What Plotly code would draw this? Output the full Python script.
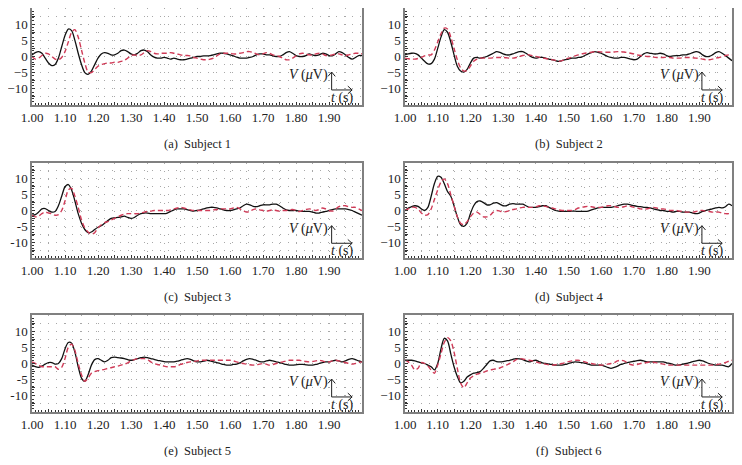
import plotly.graph_objects as go

# time axis (s)
t = [round(1.0 + 0.01 * i, 2) for i in range(101)]

captions = ["(a)  Subject 1", "(b)  Subject 2", "(c)  Subject 3",
            "(d)  Subject 4", "(e)  Subject 5", "(f)  Subject 6"]
x_tick_vals = [round(1.0 + 0.05 * i, 2) for i in range(20)]
x_tick_text = [f"{v:.2f}" if i % 2 == 0 else "" for i, v in enumerate(x_tick_vals)]
y_tick_vals = [-15, -12.5, -10, -7.5, -5, -2.5, 0, 2.5, 5, 7.5, 10, 12.5, 15]

# black solid traces (measured), red dashed traces (model)
s1_black = [0.5, 1.2, 1.5, 1.0, -0.5, -2.0, -2.8, -2.5, -0.5, 3.0,
            6.5, 8.5, 8.0, 5.0, 1.0, -2.5, -5.0, -5.5, -4.5, -2.5,
            -0.5, 0.8, 1.2, 1.0, 0.5, 0.5, 1.0, 1.8, 2.0, 1.5,
            0.8, 0.5, 1.0, 1.8, 2.0, 1.5, 0.5, -0.2, -0.5, -0.5,
            -0.3, -0.5, -0.8, -0.5, -0.8, -1.0, -1.0, -0.8, -0.5, -0.3,
            0.0, 0.0, 0.2, 0.2, 0.3, 0.5, 0.8, 1.0, 1.0, 0.8,
            0.5, 0.2, -0.2, -0.5, -0.5, -0.5, -0.3, 0.0, 0.5, 0.8,
            0.8, 0.5, 0.5, 0.2, 0.0, 0.0, 0.5, 1.2, 1.5, 1.0,
            0.3, 0.0, 0.0, 0.3, 0.8, 0.5, 0.3, 0.5, 1.0, 0.8,
            0.3, 0.2, 0.8, 1.5, 1.2, 0.5, -0.3, -0.8, -0.3, 0.3, 0.3]
s1_red = [0.0, -0.8, -0.5, 0.3, 1.0, 0.8, 0.0, -0.8, -1.0, -0.3,
          1.5, 4.5, 7.5, 8.3, 6.0, 2.0, -2.0, -4.8, -5.0, -4.0,
          -3.0, -2.5, -2.2, -2.0, -2.0, -1.8, -1.8, -1.5, -1.2, -0.5,
          0.3, 0.5, 0.3, 0.5, 1.2, 1.8, 1.5, 1.0, 0.8, 1.0,
          1.0, 1.0, 1.2, 1.0, 0.8, 0.5, 0.3, 0.3, 0.2, -0.3,
          -0.5, -0.8, -1.0, -1.0, -0.8, -0.5, 0.2, 0.8, 1.0, 1.0,
          1.0, 0.8, 0.8, 1.0, 1.2, 1.5, 1.5, 1.2, 0.8, 0.5,
          0.8, 1.2, 1.0, 0.5, 0.3, 0.0, -0.5, -1.0, -1.0, -0.5,
          0.2, 0.8, 1.0, 0.8, 0.5, 0.5, 0.8, 1.0, 0.8, 0.3,
          0.3, 0.5, 0.8, 0.8, 0.5, 0.3, 0.5, 0.8, 1.0, 1.0, 0.8]

s2_black = [0.5, 0.8, 1.0, 1.0, 0.5, -0.5, -1.5, -2.3, -2.2, -0.8,
            2.5, 6.0, 8.3, 7.5, 4.5, 0.5, -3.0, -4.5, -4.8, -4.0,
            -2.0, -0.5, -0.3, -0.5, -0.3, 0.0, 0.5, 1.0, 1.5, 1.3,
            0.8, 0.5, 0.5, 0.8, 1.2, 1.5, 1.5, 1.0, 0.3, -0.3,
            -0.5, -0.3, -0.3, -0.5, -0.8, -1.0, -1.3, -1.5, -1.3, -1.0,
            -0.8, -0.5, -0.5, -0.3, -0.2, 0.3, 0.8, 1.2, 1.5, 1.3,
            1.0, 0.5, 0.0, -0.3, -0.5, -0.5, -0.3, -0.3, -0.5, -0.8,
            -1.0, -0.8, 0.0, 0.8, 1.2, 1.0, 0.8, 0.8, 1.0, 0.8,
            0.3, 0.0, 0.2, 0.3, 0.3, 0.5, 0.5, 0.8, 1.2, 1.5,
            1.3, 0.5, 0.0, 0.0, 0.5, 1.2, 1.5, 1.0, 0.3, -0.5, -1.3]
s2_red = [-0.5, -0.7, -0.8, -0.8, -0.6, -0.3, 0.2, 0.5, 0.5, 2.0,
          4.5, 7.0, 8.8, 8.5, 6.0, 2.5, -1.0, -3.5, -4.5, -4.3,
          -3.0, -1.5, -0.8, -0.5, -0.5, -0.5, -0.5, -0.4, -0.3, -0.3,
          -0.3, -0.4, -0.5, -0.5, -0.3, 0.0, 0.3, 0.5, 0.5, 0.2,
          0.0, -0.2, -0.5, -0.6, -0.8, -1.0, -1.2, -1.5, -1.3, -0.8,
          -0.5, -0.2, 0.2, 0.5, 0.8, 1.0, 1.2, 1.3, 1.5, 1.5,
          1.4, 1.3, 1.3, 1.3, 1.4, 1.5, 1.5, 1.4, 1.2, 1.0,
          0.8, 0.5, 0.3, 0.2, 0.0, 0.0, -0.2, -0.3, -0.3, -0.3,
          -0.2, -0.3, -0.5, -0.5, -0.5, -0.4, -0.3, -0.3, -0.4, -0.5,
          -0.6, -0.8, -1.0, -1.0, -0.8, -0.5, -0.3, 0.0, 0.3, 0.5, 0.5]

s3_black = [-1.5, -1.3, -0.5, 0.5, 0.6, 0.0, -0.5, -0.3, 1.5, 4.5,
            7.5, 8.2, 6.5, 3.0, -1.0, -4.0, -6.0, -7.0, -6.8, -6.0,
            -5.3, -4.8, -4.0, -3.2, -2.5, -2.3, -2.2, -2.0, -1.8, -2.2,
            -2.5, -2.2, -1.5, -1.0, -0.8, -0.8, -1.0, -1.0, -1.0, -1.0,
            -1.0, -0.8, -0.3, 0.2, 0.5, 0.5, 0.5, 0.3, 0.0, -0.2,
            0.0, 0.2, 0.5, 0.8, 1.0, 1.0, 0.8, 0.5, 0.2, 0.0,
            0.0, 0.2, 0.5, 0.8, 1.5, 2.0, 1.8, 1.3, 1.2, 1.5,
            1.8, 1.8, 1.8, 2.0, 2.0, 1.5, 0.8, 0.2, 0.0, 0.0,
            0.0, -0.2, -0.3, -0.3, -0.3, -0.5, -0.8, -0.8, -0.5, -0.3,
            0.0, 0.3, 0.5, 0.5, 0.5, 0.5, 0.3, 0.0, -0.5, -1.0, -1.5]
s3_red = [-1.5, -2.0, -1.8, -1.0, -0.5, -0.8, -1.0, -1.5, -1.3, 0.0,
          3.0, 6.5, 7.0, 4.5, 1.0, -3.0, -5.5, -6.8, -7.5, -7.0,
          -5.5, -4.5, -3.8, -3.5, -3.0, -2.5, -2.0, -1.5, -1.2, -1.0,
          -1.0, -1.0, -1.0, -0.8, -0.5, -0.3, -0.2, 0.0, 0.0, 0.0,
          0.0, 0.0, 0.2, 0.5, 0.8, 1.0, 0.8, 0.5, 0.2, 0.0,
          0.0, 0.0, 0.0, 0.0, 0.0, 0.2, 0.3, 0.5, 0.5, 0.5,
          0.5, 0.8, 1.0, 0.5, 0.0, -0.5, -0.3, 0.3, 0.5, 0.2,
          0.0, -0.2, 0.0, 0.2, 0.0, -0.2, 0.0, 0.0, 0.2, 0.3,
          0.0, -0.3, 0.0, 0.3, 0.5, 0.3, 0.0, 0.3, 0.8, 0.5,
          0.0, -0.2, 0.5, 1.2, 1.5, 1.5, 1.2, 1.0, 1.0, 0.5, 0.0]

s4_black = [0.0, 0.8, 1.2, 1.5, 1.3, 0.5, 0.0, 1.0, 4.5, 8.5,
            10.8, 10.5, 8.5, 6.0, 4.5, 1.5, -2.0, -4.5, -5.0, -4.0,
            -1.0, 1.5, 2.8, 3.0, 2.5, 1.8, 1.8, 2.3, 2.5, 2.0,
            1.5, 1.5, 2.0, 2.2, 2.0, 2.0, 2.0, 1.5, 1.0, 1.0,
            1.0, 1.2, 1.5, 1.5, 1.0, 0.5, 0.0, -0.2, -0.3, -0.3,
            -0.3, -0.2, -0.2, -0.3, -0.3, -0.3, -0.2, 0.2, 0.5, 0.8,
            1.0, 1.0, 1.0, 1.0, 1.2, 1.5, 1.8, 2.0, 2.0, 1.8,
            1.5, 1.3, 1.2, 1.0, 1.0, 0.8, 0.5, 0.3, 0.0, 0.0,
            -0.3, -0.3, -0.5, -0.3, -0.3, -0.5, -0.5, -0.5, -0.8, -1.0,
            -0.8, -0.3, 0.0, 0.3, 0.5, 0.8, 1.0, 0.8, 1.2, 2.0, 1.5]
s4_red = [0.0, 0.5, 1.0, 1.0, 0.5, -0.8, -1.5, -1.3, 0.5, 3.5,
          6.5, 9.0, 10.0, 8.5, 5.0, 1.5, -2.0, -4.0, -4.5, -3.5,
          -2.0, -0.8, -0.5, -1.2, -2.0, -2.0, -1.5, -0.5, 0.0, -0.2,
          -0.5, -0.3, 0.0, 0.3, 0.5, 0.8, 1.0, 1.0, 1.0, 1.0,
          1.2, 1.5, 1.5, 1.3, 1.0, 0.8, 0.5, 0.2, 0.0, 0.0,
          0.0, 0.0, 0.3, 0.8, 1.0, 1.2, 1.3, 1.2, 1.0, 1.0,
          1.0, 1.2, 1.5, 1.5, 1.3, 1.0, 1.0, 1.2, 1.5, 1.3,
          1.0, 0.8, 0.5, 0.5, 0.5, 0.8, 1.0, 0.8, 0.5, 0.5,
          0.3, 0.0, 0.0, 0.0, -0.2, -0.3, -0.5, -0.5, -0.5, -0.3,
          0.0, 0.0, -0.2, -0.3, -0.5, -0.5, -0.5, -0.8, -1.0, -1.0, -0.8]

s5_black = [-0.5, -1.0, -1.2, -0.8, -0.2, 0.3, 0.3, -0.2, 0.0, 1.5,
            4.5, 6.5, 6.3, 3.5, -1.0, -4.5, -5.5, -3.5, -0.5, 1.2,
            1.5, 1.0, 0.5, 1.0, 1.8, 2.0, 1.8, 1.7, 1.5, 1.2,
            1.0, 1.2, 1.5, 1.8, 2.0, 1.8, 1.5, 1.3, 1.0, 0.8,
            0.6, 0.5, 0.5, 0.5, 0.7, 1.0, 1.3, 1.5, 1.3, 0.8,
            0.5, 0.5, 0.7, 1.0, 0.8, 0.5, 0.3, 0.0, -0.3, -0.5,
            -0.5, -0.3, -0.2, 0.2, 0.8, 1.3, 1.5, 1.3, 1.0, 0.6,
            0.5, 0.8, 1.0, 0.8, 0.5, 0.3, 0.0, -0.3, -0.5, -0.5,
            -0.4, -0.3, -0.3, -0.4, -0.5, -0.5, -0.3, 0.0, 0.3, 0.5,
            0.5, 0.8, 1.0, 0.8, 0.5, 0.8, 1.3, 1.5, 1.2, 0.8, 0.5]
s5_red = [0.5, 0.0, -0.5, -1.0, -1.0, -1.0, -1.0, -1.0, -1.8, -1.2,
          1.5, 5.0, 6.0, 4.0, 0.0, -3.5, -5.5, -4.5, -3.0, -2.5,
          -2.2, -2.0, -1.8, -1.5, -1.3, -1.0, -0.8, -0.5, -0.2, 0.2,
          0.8, 1.2, 1.5, 1.5, 1.5, 1.2, 0.5, 0.0, -0.3, -0.5,
          -0.8, -1.0, -1.0, -1.0, -0.8, -0.3, 0.0, 0.3, 0.5, 0.6,
          0.8, 1.0, 1.0, 1.0, 1.0, 1.0, 1.0, 1.0, 1.0, 1.0,
          1.0, 0.8, 0.5, 0.2, 0.0, -0.2, -0.4, -0.5, -0.4, -0.2,
          0.0, -0.2, -0.5, -0.3, 0.0, 0.3, 0.5, 0.8, 1.0, 1.0,
          1.0, 1.0, 0.8, 0.6, 0.5, 0.6, 0.8, 1.0, 0.8, 0.5,
          0.5, 0.8, 1.0, 0.8, 0.5, 0.3, 0.0, -0.2, 0.0, 0.3, 0.5]

s6_black = [1.0, 1.0, 1.0, 0.8, 0.5, 0.2, 0.0, -0.5, -1.0, -2.0,
            0.0, 4.5, 7.8, 7.0, 3.0, -1.0, -4.0, -6.0, -5.5, -4.2,
            -3.5, -3.0, -2.8, -2.5, -1.5, -0.3, 0.8, 1.0, 0.6, 0.5,
            0.6, 0.8, 1.0, 1.3, 1.5, 1.4, 1.2, 0.8, 0.5, 0.8,
            1.0, 0.6, 0.2, 0.0, -0.2, -0.3, -0.5, -0.5, -0.5, -0.3,
            0.0, 0.3, 0.5, 0.4, 0.3, 0.1, -0.2, -0.5, -0.5, -0.5,
            -0.5, -0.8, -1.2, -1.5, -1.2, -0.8, -0.3, 0.0, 0.3, 0.5,
            0.7, 0.9, 1.0, 0.8, 0.5, 0.5, 0.5, 0.5, 0.5, 0.5,
            0.2, 0.0, -0.3, -0.5, -0.4, -0.2, 0.0, 0.3, 0.6, 0.8,
            1.0, 0.8, 0.4, 0.0, -0.3, -0.5, -0.5, -0.5, -0.8, -1.0, 0.0]
s6_red = [1.0, 0.5, -0.5, -2.0, -1.5, 0.3, 0.0, -0.8, -2.0, -3.0,
          -0.5, 3.0, 6.5, 8.0, 7.0, 3.5, -1.5, -6.0, -7.5, -6.0,
          -4.5, -3.8, -3.3, -3.0, -2.7, -2.3, -2.0, -1.8, -1.6, -1.4,
          -1.0, -0.5, 0.0, 0.5, 1.2, 1.5, 1.4, 1.2, 1.0, 0.8,
          0.5, 0.2, 0.0, -0.2, -0.4, -0.5, -0.4, -0.2, 0.0, 0.3,
          0.6, 0.8, 1.0, 1.0, 0.8, 0.5, 0.2, 0.0, -0.2, -0.3,
          -0.5, -0.4, -0.2, 0.0, 0.3, 0.8, 1.0, 0.8, 0.2, -0.3,
          -0.5, -0.3, 0.0, 0.2, 0.3, 0.5, 0.4, 0.2, 0.0, -0.2,
          -0.4, -0.5, -0.5, -0.5, -0.5, -0.5, -0.5, -0.5, -0.5, -0.5,
          -0.5, -0.5, -0.5, -0.5, -0.5, -0.4, -0.2, 0.0, 0.3, 0.7, 1.0]

blacks = [s1_black, s2_black, s3_black, s4_black, s5_black, s6_black]
reds = [s1_red, s2_red, s3_red, s4_red, s5_red, s6_red]

# The page body has an 8px default margin, so the figure is placed at (8, 8)
OFF = 8
W, H = 742 - 2 * OFF, 465 - 2 * OFF
# panel pixel boxes in window coordinates (left, right, top, bottom)
cols = [(32, 362), (405, 732)]
rows = [(7, 105), (163, 258), (315, 412)]
minus_style = ["\u2212", "\u2212", "-", "\u2212", "-", "\u2212"]


def fx(px):
    return (px - OFF) / W


def fy(py):
    return 1 - (py - OFF) / H


SERIF = "Liberation Serif"
fig = go.Figure()
layout = dict(
    width=W, height=H, margin=dict(l=0, r=0, t=0, b=0, autoexpand=False),
    paper_bgcolor="white", plot_bgcolor="white", showlegend=False,
    font=dict(family=SERIF, size=13, color="#222222"),
)
annotations = []
shapes = []
for i in range(6):
    r, c = divmod(i, 2)
    l, rgt = cols[c]
    top, bot = rows[r]
    xd = [max(0.0, fx(l)), min(1.0, fx(rgt))]
    yd = [max(0.0, fy(bot)), min(1.0, fy(top))]
    sfx = "" if i == 0 else str(i + 1)
    xa, ya = "x" + sfx, "y" + sfx
    fig.add_trace(go.Scatter(x=t, y=blacks[i], mode="lines", xaxis=xa, yaxis=ya,
                             line=dict(color="#111111", width=1.3, shape="spline", smoothing=0.8)))
    fig.add_trace(go.Scatter(x=t, y=reds[i], mode="lines", xaxis=xa, yaxis=ya,
                             line=dict(color="#cf3b57", width=1.4, dash="5px,3px",
                                       shape="spline", smoothing=0.8)))
    m = minus_style[i]
    y_text = []
    for v in y_tick_vals:
        if v in (-10, -5, 0, 5, 10):
            y_text.append((m + str(abs(v))) if v < 0 else str(v))
        else:
            y_text.append("")
    layout["xaxis" + sfx] = dict(
        domain=xd, anchor=ya, range=[1.0, 2.0], tickmode="array",
        tickvals=x_tick_vals, ticktext=x_tick_text, ticks="inside", ticklen=3,
        tickcolor="#333333", showline=True, mirror=True, linecolor="#808080", linewidth=1.5,
        showgrid=True, gridcolor="#a8a8a8", gridwidth=1, griddash="1px,7px",
        zeroline=False, tickfont=dict(family=SERIF, size=13, color="#222222"),
        minor=dict(ticks="inside", dtick=0.01, ticklen=2, tickcolor="#333333", showgrid=False),
    )
    layout["yaxis" + sfx] = dict(
        domain=yd, anchor=xa, range=[-15, 15], tickmode="array",
        tickvals=y_tick_vals, ticktext=y_text, ticks="inside", ticklen=3,
        tickcolor="#333333", showline=True, mirror=True, linecolor="#808080", linewidth=1.5,
        showgrid=True, gridcolor="#a8a8a8", gridwidth=1, griddash="1px,7px",
        zeroline=False, tickfont=dict(family=SERIF, size=13, color="#222222"),
        minor=dict(ticks="inside", dtick=1, ticklen=2, tickcolor="#333333", showgrid=False),
    )
    # caption
    annotations.append(dict(
        text=captions[i], xref="paper", yref="paper",
        x=fx((l + rgt) / 2), y=fy(bot + 39), xanchor="center", yanchor="middle",
        showarrow=False, font=dict(family=SERIF, size=12.5, color="#222222")))
    # axis-unit glyph
    dx, dy = xa + " domain", ya + " domain"
    cx, cy, vy, hx = 0.908, 0.155, 0.34, 0.97
    annotations.append(dict(
        text="<i>V</i> (<i>\u03bc</i>V)", xref=dx, yref=dy, x=cx - 0.004, y=0.31,
        xanchor="right", yanchor="middle", showarrow=False,
        font=dict(family=SERIF, size=14, color="#222222")))
    annotations.append(dict(
        text="<i>t</i> (s)", xref=dx, yref=dy, x=0.94, y=0.07,
        xanchor="center", yanchor="middle", showarrow=False,
        font=dict(family=SERIF, size=14, color="#222222")))
    ln = dict(color="#222222", width=1)
    shapes.append(dict(type="path", xref=dx, yref=dy,
                       path=f"M {cx} {vy} L {cx} {cy} L {hx} {cy}", line=ln))
    shapes.append(dict(type="path", xref=dx, yref=dy,
                       path=f"M {cx-0.011} {vy-0.045} L {cx} {vy} L {cx+0.011} {vy-0.045}", line=ln))
    shapes.append(dict(type="path", xref=dx, yref=dy,
                       path=f"M {hx-0.013} {cy+0.04} L {hx} {cy} L {hx-0.013} {cy-0.04}", line=ln))

layout["annotations"] = annotations
layout["shapes"] = shapes
fig.update_layout(**layout)
fig.write_html("out.html")
